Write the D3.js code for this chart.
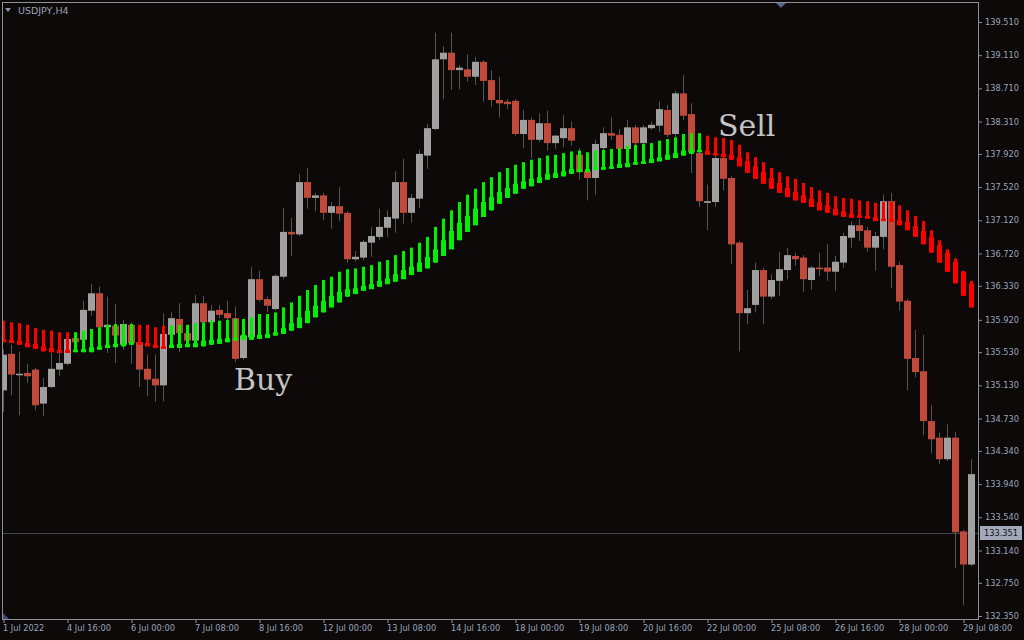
<!DOCTYPE html>
<meta charset="utf-8">
<style>
body { margin: 0; background: #0c0908; }
svg text { font-family: "DejaVu Sans", sans-serif; }
</style>
<body>
</body>
<script src="https://cdn.jsdelivr.net/npm/d3@7"></script>
<script>

// USDJPY H4 candles, 1 Jul - 29 Jul 2022
var opens = [135.07,135.51,135.26,135.28,135.32,134.91,135.11,135.32,135.39,135.70,
  135.68,136.03,136.24,135.83,135.85,135.62,135.86,135.65,135.33,135.21,
  135.13,135.74,135.93,135.76,135.67,136.12,135.89,136.04,136.00,135.94,
  135.46,135.71,136.41,136.17,136.05,136.44,136.98,136.95,137.58,137.39,
  137.42,137.21,137.29,137.21,136.65,136.67,136.85,136.92,137.03,137.14,
  137.58,137.21,137.38,137.90,138.22,139.06,139.14,138.93,138.94,138.85,
  139.03,138.81,138.57,138.55,138.56,138.16,138.33,138.09,138.29,138.05,
  138.11,138.23,137.91,137.71,137.63,137.99,138.17,138.15,137.98,138.24,
  138.05,138.23,138.26,138.45,138.16,138.65,138.40,137.93,137.33,137.34,
  137.87,137.63,136.85,136.00,136.10,136.52,136.20,136.39,136.52,136.69,
  136.67,136.40,136.55,136.55,136.50,136.61,136.91,137.06,137.00,136.79,
  136.92,137.35,136.58,136.15,135.46,135.30,134.70,134.50,134.24,134.50,
  133.37,132.97];
var highs = [135.56,135.62,135.54,135.39,135.34,135.22,135.52,135.53,135.74,135.74,
  136.15,136.35,136.32,136.20,136.11,135.92,135.89,135.68,135.50,135.50,
  136.00,136.01,136.12,135.82,136.22,136.21,136.10,136.10,136.15,136.08,
  135.80,136.56,136.51,136.20,136.47,137.27,137.15,137.68,137.75,137.45,
  137.45,137.34,137.52,137.23,136.75,136.88,137.04,137.26,137.24,137.71,
  137.86,137.44,137.97,138.28,139.38,139.22,139.38,138.99,139.12,139.09,
  139.05,138.93,138.85,138.58,138.58,138.45,138.36,138.41,138.44,138.15,
  138.39,138.31,137.99,137.74,138.09,138.24,138.36,138.22,138.33,138.27,
  138.27,138.31,138.55,138.51,138.68,138.87,138.53,138.09,137.55,137.91,
  137.90,137.65,136.87,136.28,136.61,136.55,136.47,136.74,136.79,136.73,
  136.70,136.57,136.73,136.83,136.69,136.97,137.11,137.14,137.04,136.98,
  137.43,137.45,136.62,136.17,135.80,135.74,134.89,134.56,134.66,134.57,
  133.39,134.24];
var lows = [134.81,135.01,134.77,135.16,134.83,134.76,135.10,135.24,135.37,135.62,
  135.56,135.97,135.80,135.52,135.40,135.56,135.39,135.11,135.00,134.93,
  134.94,135.70,135.53,135.60,135.64,135.86,135.87,135.94,135.89,135.41,
  135.44,135.68,136.14,136.01,136.03,136.41,136.69,136.93,137.26,137.23,
  137.12,137.02,137.11,136.61,136.62,136.64,136.68,136.88,136.92,136.97,
  137.08,137.09,137.27,137.74,138.21,138.58,138.69,138.70,138.79,138.75,
  138.55,138.49,138.36,138.46,138.14,137.99,137.87,138.06,137.96,137.98,
  138.00,138.02,137.61,137.36,137.43,137.97,138.09,137.96,137.97,138.00,
  138.00,138.21,138.18,138.12,138.12,138.33,137.69,137.28,137.00,137.28,
  137.48,136.59,135.54,135.87,136.01,135.87,136.17,136.21,136.41,136.57,
  136.26,136.28,136.45,136.39,136.27,136.55,136.79,136.87,136.74,136.51,
  136.77,136.30,136.03,135.07,135.23,134.53,134.31,134.18,134.22,132.93,
  132.48,132.95];
var closes = [135.50,135.26,135.27,135.24,134.89,135.11,135.33,135.40,135.69,135.65,
  136.04,136.24,135.83,135.86,135.73,135.87,135.64,135.32,135.20,135.13,
  135.75,135.94,135.76,135.67,136.12,135.89,136.03,135.98,135.94,135.45,
  135.73,136.41,136.16,136.09,136.45,136.98,136.95,137.58,137.39,137.42,
  137.21,137.29,137.20,136.65,136.68,136.86,136.93,137.04,137.16,137.58,
  137.21,137.39,137.92,138.23,139.06,139.14,138.93,138.96,138.85,139.03,
  138.80,138.57,138.53,138.52,138.16,138.33,138.09,138.29,138.05,138.14,
  138.23,138.08,137.70,137.63,138.04,138.17,138.14,137.98,138.24,138.05,
  138.24,138.27,138.46,138.15,138.65,138.38,137.94,137.35,137.35,137.87,
  137.62,136.83,136.00,136.06,136.52,136.20,136.40,136.53,136.70,136.65,
  136.41,136.55,136.53,136.50,136.62,136.93,137.06,136.99,136.79,136.93,
  137.35,136.56,136.14,135.45,135.29,134.70,134.48,134.24,134.50,133.36,
  132.97,134.06];

// trend indicator: thin bar from sigTop to sigLow, thick bar from sigMid to sigLow
var sigTop = [135.91,135.89,135.88,135.86,135.82,135.80,135.79,135.77,135.77,135.77,
  135.79,135.81,135.83,135.86,135.87,135.87,135.87,135.86,135.86,135.83,
  135.85,135.85,135.86,135.86,135.88,135.89,135.91,135.91,135.92,135.93,
  135.93,135.95,135.99,135.99,136.01,136.07,136.13,136.21,136.28,136.34,
  136.40,136.44,136.50,136.53,136.54,136.56,136.58,136.62,136.64,136.70,
  136.75,136.79,136.85,136.92,137.04,137.14,137.24,137.34,137.43,137.50,
  137.58,137.64,137.70,137.75,137.79,137.82,137.85,137.87,137.90,137.91,
  137.93,137.95,137.96,137.94,137.96,137.97,137.98,137.99,138.02,138.03,
  138.04,138.05,138.08,138.10,138.12,138.16,138.17,138.17,138.14,138.12,
  138.11,138.09,138.03,137.94,137.88,137.82,137.75,137.70,137.65,137.62,
  137.57,137.52,137.48,137.45,137.41,137.39,137.38,137.36,137.35,137.33,
  137.34,137.34,137.30,137.24,137.17,137.11,137.00,136.88,136.77,136.66,
  136.51,136.39];
var sigMid = [135.69,135.68,135.67,135.64,135.63,135.60,135.58,135.56,135.56,135.56,
  135.57,135.59,135.60,135.62,135.63,135.64,135.65,135.65,135.64,135.62,
  135.60,135.62,135.63,135.63,135.64,135.67,135.68,135.69,135.70,135.70,
  135.74,135.74,135.74,135.75,135.77,135.82,135.88,135.95,136.03,136.09,
  136.15,136.21,136.26,136.29,136.30,136.33,136.35,136.39,136.42,136.47,
  136.52,136.56,136.61,136.68,136.77,136.88,136.99,137.09,137.17,137.26,
  137.34,137.40,137.46,137.51,137.56,137.59,137.62,137.64,137.68,137.69,
  137.71,137.74,137.74,137.74,137.76,137.76,137.77,137.80,137.81,137.82,
  137.83,137.86,137.88,137.91,137.93,137.96,137.97,137.97,137.96,137.93,
  137.92,137.91,137.88,137.83,137.77,137.70,137.63,137.57,137.51,137.46,
  137.42,137.38,137.34,137.30,137.26,137.23,137.20,137.18,137.17,137.16,
  137.14,137.14,137.12,137.10,137.05,136.99,136.92,136.82,136.73,136.62,
  136.50,136.36];
var sigLow = [135.65,135.64,135.62,135.59,135.57,135.54,135.53,135.52,135.52,135.53,
  135.53,135.53,135.56,135.58,135.59,135.60,135.62,135.62,135.60,135.58,
  135.57,135.58,135.58,135.59,135.59,135.60,135.62,135.63,135.65,135.67,
  135.68,135.68,135.69,135.70,135.73,135.75,135.79,135.82,135.88,135.95,
  136.01,136.07,136.13,136.20,136.23,136.27,136.29,136.32,136.35,136.38,
  136.41,136.46,136.50,136.54,136.61,136.69,136.77,136.88,136.98,137.06,
  137.16,137.24,137.32,137.39,137.44,137.50,137.53,137.57,137.61,137.63,
  137.65,137.68,137.70,137.70,137.73,137.73,137.74,137.75,137.76,137.79,
  137.80,137.81,137.83,137.85,137.87,137.90,137.92,137.94,137.91,137.90,
  137.88,137.85,137.77,137.69,137.62,137.56,137.50,137.45,137.40,137.36,
  137.33,137.28,137.24,137.21,137.18,137.16,137.15,137.15,137.14,137.11,
  137.11,137.10,137.06,137.00,136.92,136.83,136.73,136.61,136.50,136.36,
  136.21,136.07];
// U = up (green), D = down (red)
var sigTrend = ("DDDDDDDDD" + "UUUUUUUU" + "DDDD" +
  "UUUUUUUUUUUUUUUUUUUUUUUUUUUUUUUUUUUUUUUUUUUUUUUUUUUUUUUUUUUUUUUUUUU" +
  "DDDDDDDDDDDDDDDDDDDDDDDDDDDDDDDDDD").split("");

var priceTicks = [139.510,139.110,138.710,138.310,137.920,137.520,137.120,136.720,136.330,
  135.920,135.530,135.130,134.730,134.340,133.940,133.540,133.140,132.750,132.350];
var dateTickIdx = [0,8,16,24,32,40,48,56,64,72,80,88,96,104,112,120];
var dateTickLabels = ["1 Jul 2022","4 Jul 16:00","6 Jul 00:00","7 Jul 08:00","8 Jul 16:00",
  "12 Jul 00:00","13 Jul 08:00","14 Jul 16:00","18 Jul 00:00","19 Jul 08:00","20 Jul 16:00",
  "22 Jul 00:00","25 Jul 08:00","26 Jul 16:00","28 Jul 00:00","29 Jul 08:00"];
var lastPrice = 133.351;
var notes = [{text: "Buy", i: 28.8, price: 135.07}, {text: "Sell", i: 89.3, price: 138.14}];

var W = 1024, H = 640;
var plot = {left: 2, top: 2, right: 978, bottom: 619};

var x = d3.scaleLinear().domain([0, 121]).range([3.5, 971.5]);
var y = d3.scaleLinear().domain([132.35, 139.51]).range([616, 22]);

var svg = d3.select("body").append("svg")
    .attr("width", W).attr("height", H)
    .style("display", "block");

svg.append("rect").attr("width", W).attr("height", H).attr("fill", "#0c0908");

svg.append("clipPath").attr("id", "plotclip")
  .append("rect")
    .attr("x", plot.left + 1).attr("y", plot.top + 1)
    .attr("width", plot.right - plot.left - 1)
    .attr("height", plot.bottom - plot.top - 1);

var g = svg.append("g").attr("clip-path", "url(#plotclip)");

// last price line
g.append("line")
    .attr("x1", plot.left).attr("x2", plot.right)
    .attr("y1", Math.round(y(lastPrice)) + 0.5).attr("y2", Math.round(y(lastPrice)) + 0.5)
    .attr("stroke", "#45454f").attr("stroke-width", 1);

var idx = d3.range(opens.length);

// wicks
g.selectAll(".wick").data(idx).enter().append("rect")
    .attr("class", "wick")
    .attr("x", function(i) { return x(i) - 0.5; })
    .attr("width", 1)
    .attr("y", function(i) { return y(highs[i]); })
    .attr("height", function(i) { return y(lows[i]) - y(highs[i]); })
    .attr("fill", "#555555");

// bodies
g.selectAll(".body").data(idx).enter().append("rect")
    .attr("class", "body")
    .attr("x", function(i) { return x(i) - 3.5; })
    .attr("width", 7)
    .attr("y", function(i) { return y(Math.max(opens[i], closes[i])); })
    .attr("height", function(i) { return Math.max(1.5, Math.abs(y(opens[i]) - y(closes[i]))); })
    .attr("fill", function(i) { return closes[i] >= opens[i] ? "#a0a0a0" : "#c1493a"; });

// indicator
var trendColor = {U: "#00f000", D: "#ff0000"};
g.selectAll(".sigthin").data(idx).enter().append("rect")
    .attr("class", "sigthin")
    .attr("x", function(i) { return x(i) - 1.5; })
    .attr("width", 3)
    .attr("y", function(i) { return y(sigTop[i]); })
    .attr("height", function(i) { return y(sigLow[i]) - y(sigTop[i]); })
    .attr("fill", function(i) { return trendColor[sigTrend[i]]; });

g.selectAll(".sigthick").data(idx).enter().append("rect")
    .attr("class", "sigthick")
    .attr("x", function(i) { return x(i) - 2.5; })
    .attr("width", 5)
    .attr("y", function(i) { return y(sigMid[i]); })
    .attr("height", function(i) { return Math.max(2, y(sigLow[i]) - y(sigMid[i])); })
    .attr("fill", function(i) { return trendColor[sigTrend[i]]; });

// Buy / Sell text
g.selectAll(".note").data(notes).enter().append("text")
    .attr("x", function(d) { return x(d.i); })
    .attr("y", function(d) { return y(d.price); })
    .style("font-family", "'DejaVu Serif', serif")
    .style("font-size", "30px")
    .attr("fill", "#c4c4c4")
    .text(function(d) { return d.text; });

// frame
svg.append("rect")
    .attr("x", plot.left + 0.5).attr("y", plot.top + 0.5)
    .attr("width", plot.right - plot.left).attr("height", plot.bottom - plot.top)
    .attr("fill", "none").attr("stroke", "#8c909c");

// y axis
var yAxis = svg.append("g")
    .attr("transform", "translate(" + plot.right + ",0)")
    .call(d3.axisRight(y).tickValues(priceTicks).tickFormat(d3.format(".3f")).tickSize(4).tickPadding(3));
yAxis.select(".domain").remove();
yAxis.selectAll("line").attr("stroke", "#8c909c");
yAxis.selectAll("text").attr("fill", "#9aa6bc").style("font-size", "8.2px")
    .style("font-family", "'DejaVu Sans', sans-serif");

// last price label
var lp = svg.append("g").attr("transform", "translate(980," + Math.round(y(lastPrice)) + ")");
lp.append("rect").attr("x", 0).attr("y", -7).attr("width", 42).attr("height", 14).attr("fill", "#a2a9bb");
lp.append("text").attr("x", 4).attr("y", 3).attr("fill", "#111")
    .style("font-size", "8.2px").text(d3.format(".3f")(lastPrice));

// x axis
var xAxis = svg.append("g")
    .attr("transform", "translate(0," + plot.bottom + ")")
    .call(d3.axisBottom(x).tickValues(dateTickIdx)
      .tickFormat(function(d, k) { return dateTickLabels[k]; }).tickSize(4).tickPadding(2));
xAxis.select(".domain").remove();
xAxis.selectAll("line").attr("stroke", "#8c909c");
xAxis.selectAll("text").attr("fill", "#9aa6bc").attr("text-anchor", "start").attr("x", -1)
    .style("font-size", "8.2px").style("font-family", "'DejaVu Sans', sans-serif");

// symbol label top-left
svg.append("path").attr("d", "M5,8 L11,8 L8,12 Z").attr("fill", "#8a94a8");
svg.append("text").attr("x", 18).attr("y", 14).attr("fill", "#9aa4b8")
    .style("font-size", "9.5px").text("USDJPY,H4");

// small chart-shift marker on top and corner marker
svg.append("path").attr("d", "M776,3 L786,3 L781,8 Z").attr("fill", "#56668a");
svg.append("path").attr("d", "M3,613 L3,619 L9,619 Z").attr("fill", "#3c4a78");

</script>
